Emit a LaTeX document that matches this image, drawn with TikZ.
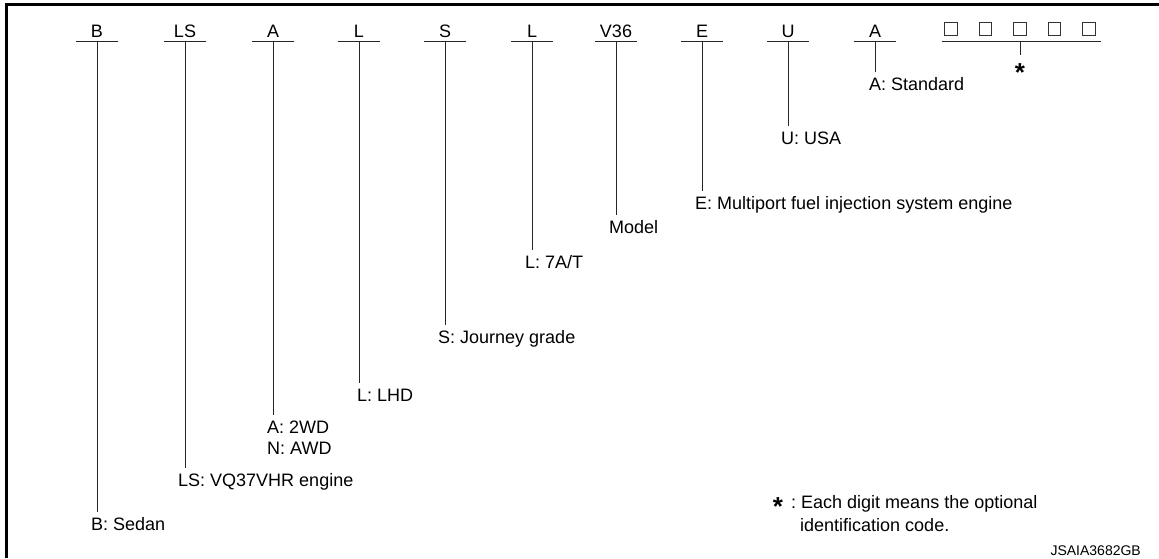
\documentclass[tikz,border=0pt]{standalone}
\usepackage{fontspec}
\setmainfont{Liberation Sans}
\begin{document}
\begin{tikzpicture}[x=1pt,y=-1pt,
  txt/.style={font=\fontsize{18}{21}\selectfont, inner sep=0pt},
  hdr/.style={txt, anchor=base},
  lbl/.style={txt, anchor=north west, align=left},
  ln/.style={line width=0.9pt, black!85},
  sq/.style={draw=black!80, line width=0.9pt, minimum size=12.5pt, inner sep=0pt},
  star/.style={font=\fontsize{26}{26}\selectfont\bfseries, inner sep=0pt},
  stampf/.style={font=\fontsize{14}{16}\selectfont, inner sep=0pt, anchor=base east},
]
\useasboundingbox (0,0) rectangle (1159,558);
\draw[line width=2.6pt] (6.2,558) -- (6.2,4.7) -- (1159,4.7);

% header letters and underline tops
\foreach \n/\x/\t in {B/97/B, LS/185/LS, A/273/A, L/359/L, S/445/S, T/532/L, V/616/V36, E/702/E, U/788/U, St/875/A}{
  \node[hdr] (h\n) at (\x,37.5) {\t};
  \coordinate (c\n) at (\x,41);
  \draw[ln] ([xshift=-21pt]c\n) -- ([xshift=21pt]c\n);
}

% labels
\node[lbl] (lB)  at (91,517.5)  {B: Sedan};
\node[lbl] (lLS) at (178,473.5) {LS: VQ37VHR engine};
\node[lbl] (lA)  at (267,420.5) {A: 2WD\\N: AWD};
\node[lbl] (lL)  at (357,388.5) {L: LHD};
\node[lbl] (lS)  at (438,330.5) {S: Journey grade};
\node[lbl] (lT)  at (525,255.5) {L: 7A/T};
\node[lbl] (lV)  at (609,220.5) {Model};
\node[lbl] (lE)  at (695,196.5) {E: Multiport fuel injection system engine};
\node[lbl] (lU)  at (781,131.5) {U: USA};
\node[lbl] (lSt) at (869,77.5)  {A: Standard};

\foreach \n in {B, LS, A, L, S, T, V, E, U, St}{
  \draw[ln] (c\n) -- ([yshift=6pt]c\n |- l\n.north);
}

% optional code boxes
\foreach \i/\x in {1/951, 2/985.5, 3/1020, 4/1054.5, 5/1089}{
  \node[sq] (b\i) at (\x,29) {};
}
\coordinate (cO) at (1020,41);
\draw[ln] (942,41) -- (1101,41);
\node[star] (sO) at (1020,72.5) {*};
\draw[ln] (cO) -- (1020,55);

% note
\node[star] (sN) at (778,507) {*};
\node[txt, anchor=base west] (nN1) at (791,508.4) {:\ Each digit means the optional};
\node[txt, anchor=base west] (nN2) at (800,531) {identification code.};

\node[stampf] (stamp) at (1141,555) {JSAIA3682GB};
\end{tikzpicture}
\end{document}
